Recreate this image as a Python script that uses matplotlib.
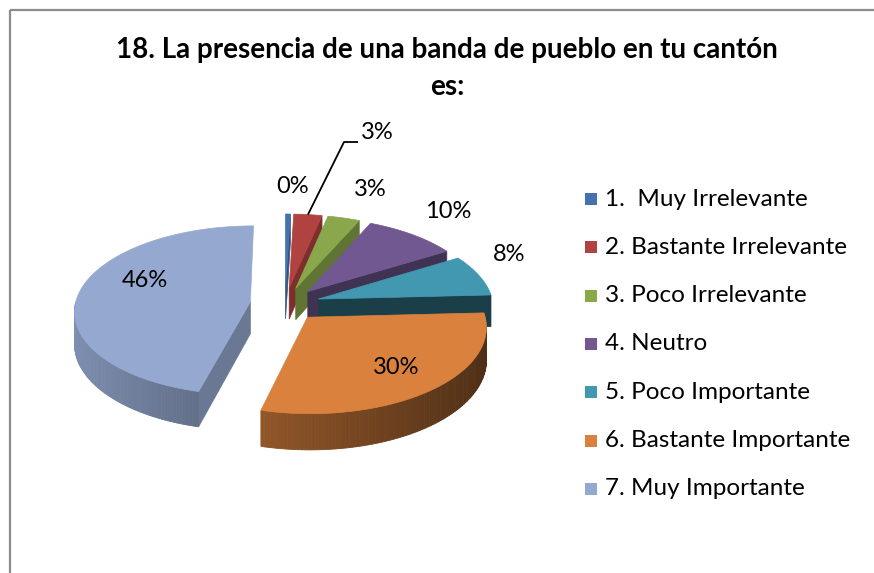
import numpy as np
import matplotlib
matplotlib.use("Agg")
import matplotlib.pyplot as plt
from matplotlib.patches import Polygon, Rectangle
from matplotlib.colors import to_rgb

# ---------------- data ----------------
title_lines = ["18. La presencia de una banda de pueblo en tu cantón", "es:"]
categories = ["1.  Muy Irrelevante", "2. Bastante Irrelevante", "3. Poco Irrelevante",
              "4. Neutro", "5. Poco Importante", "6. Bastante Importante", "7. Muy Importante"]
values = [0.5, 2.9, 3.3, 9.6, 7.9, 29.8, 46.0]
colors = ["#4572AE", "#B0423F", "#8AA74B", "#715890", "#4298B0", "#DA823D", "#95A9D0"]
explode = [0.2, 0.2, 0.2, 0.2, 0.2, 0.2, 0.2]
# label placement (radius, angle in degrees clockwise from 12 o'clock) in pie units
label_r = [1.42, 2.46, 1.47, 1.42, 1.30, 0.72, 0.68]
label_a = [2, 15, 20, 40, 64, 140, 293]

FONT = ["Lato", "DejaVu Sans"]

# ---------------- 3D projection params ----------------
W, H = 874, 573
CX, CY, R, TILT, PERSP, THICK = 285, 304, 175, 0.48, 0.10, 32


def proj(u, v, z):
    f = 1.0 / (1.0 + PERSP * v)
    return CX + R * u * f, CY - R * TILT * v * f + THICK * (1 - z) * f


def shade(c, k):
    r, g, b = to_rgb(c)
    k = float(np.clip(k, 0, 1))
    return (r * k, g * k, b * k)


fig = plt.figure(figsize=(W / 100, H / 100), dpi=100)
ax = fig.add_axes([0, 0, 1, 1])
ax.set_xlim(0, W)
ax.set_ylim(H, 0)
ax.axis("off")

vals = np.array(values, float)
bounds = np.concatenate([[0], np.cumsum(vals / vals.sum())]) * 360.0

slices = []
for i in range(len(vals)):
    t1, t2 = bounds[i], bounds[i + 1]
    m = 0.5 * (t1 + t2)
    du = explode[i] * np.sin(np.radians(m))
    dv = explode[i] * np.cos(np.radians(m))
    depth = dv + 0.6 * np.cos(np.radians(m))
    slices.append((depth, i, t1, t2, m, du, dv))

slices.sort(key=lambda s: -s[0])

z = 1
for depth, i, t1, t2, m, du, dv in slices:
    col = colors[i]
    n = max(3, int((t2 - t1) / 1.0) + 2)
    th = np.linspace(t1, t2, n)
    us = du + np.sin(np.radians(th))
    vs = dv + np.cos(np.radians(th))
    # radial faces
    faces = []
    if np.sin(np.radians(t1)) < 0:
        faces.append((t1, -np.cos(np.radians(t1))))
    if np.sin(np.radians(t2)) > 0:
        faces.append((t2, np.cos(np.radians(t2))))
    for t, nx in faces:
        ur = du + np.sin(np.radians(t))
        vr = dv + np.cos(np.radians(t))
        pts = [proj(du, dv, 1), proj(ur, vr, 1), proj(ur, vr, 0), proj(du, dv, 0)]
        c = shade(col, 0.4 + 0.32 * nx)
        ax.add_patch(Polygon(pts, closed=True, facecolor=c, edgecolor=c, lw=0.5, zorder=z))
        z += 1
    # outer curved wall (front half)
    a0, a1 = max(t1, 90), min(t2, 270)
    if a1 > a0:
        tw = np.linspace(a0, a1, max(3, int(a1 - a0) + 2))
        for k in range(len(tw) - 1):
            ta, tb = tw[k], tw[k + 1]
            ua, va = du + np.sin(np.radians(ta)), dv + np.cos(np.radians(ta))
            ub, vb = du + np.sin(np.radians(tb)), dv + np.cos(np.radians(tb))
            tm = 0.5 * (ta + tb)
            c = shade(col, 0.6 - 0.25 * np.sin(np.radians(tm)))
            pts = [proj(ua, va, 1), proj(ub, vb, 1), proj(ub, vb, 0), proj(ua, va, 0)]
            ax.add_patch(Polygon(pts, closed=True, facecolor=c, edgecolor=c, lw=0.6, zorder=z))
        z += 1
    # top face
    top = [proj(du, dv, 1)] + [proj(u, v, 1) for u, v in zip(us, vs)]
    ax.add_patch(Polygon(top, closed=True, facecolor=col, edgecolor=col, lw=0.5, zorder=z))
    z += 1

# data labels
for i, v in enumerate(values):
    m = 0.5 * (bounds[i] + bounds[i + 1])
    du = explode[i] * np.sin(np.radians(m))
    dv = explode[i] * np.cos(np.radians(m))
    a = np.radians(label_a[i])
    lx, ly = proj(du + label_r[i] * np.sin(a), dv + label_r[i] * np.cos(a), 1)
    ax.text(lx, ly, f"{v:.0f}%", ha="center", va="center", fontsize=17,
            family=FONT, color="black", zorder=100)
    if i == 1:
        sx, sy = proj(du + np.sin(np.radians(m)), dv + np.cos(np.radians(m)), 1)
        ax.plot([sx, lx - 33, lx - 19], [sy, ly + 10, ly + 10], color="black", lw=1.3,
                zorder=99, solid_capstyle="butt")

# title
ax.text(447, 50, title_lines[0], ha="center", va="center", fontsize=20, fontweight="bold",
        family=FONT, zorder=100)
ax.text(447, 87, title_lines[1], ha="center", va="center", fontsize=20, fontweight="bold",
        family=FONT, zorder=100)

# legend
for i, lab in enumerate(categories):
    y = 199 + i * 48.3
    ax.add_patch(Rectangle((585, y - 6), 12, 12, facecolor=colors[i], edgecolor="none", zorder=100))
    ax.text(605, y, lab, ha="left", va="center", fontsize=17.5, family=FONT, zorder=100)

# chart border
ax.add_patch(Rectangle((10, 10), W + 20, H + 20, facecolor="none", edgecolor="#8c8c8c",
                       lw=1.6, zorder=101))

fig.savefig("out.png", dpi=100)
